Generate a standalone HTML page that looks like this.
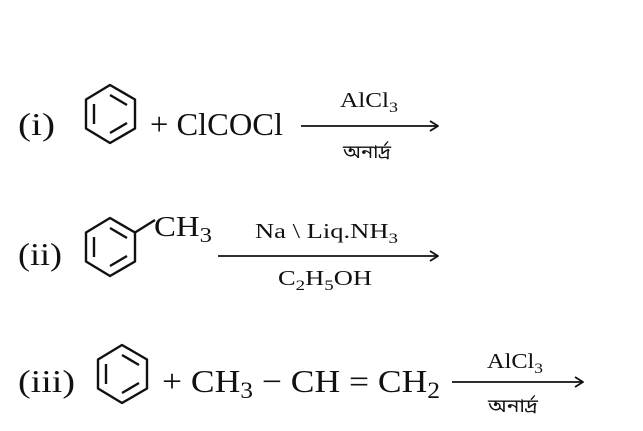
<!DOCTYPE html>
<html><head><meta charset="utf-8"><style>
html,body{margin:0;padding:0;background:#fff;width:643px;height:431px;overflow:hidden}
svg{display:block}
text{font-family:"Liberation Serif",serif;fill:#111}
.s{font-family:"Liberation Serif",serif;font-size:21px}
.b{font-family:"Noto Sans Bengali","Lohit Bengali","FreeSerif","DejaVu Sans",sans-serif;font-size:18px}
</style></head><body>
<svg width="643" height="431" viewBox="0 0 643 431">
<g stroke="#111" stroke-width="2.4" fill="none" stroke-linejoin="round">
 <polygon points="110,85 135,99.5 135,128.5 110,143 86,128.5 86,99.5"/>
 <line x1="94" y1="104" x2="94" y2="124"/>
 <line x1="110" y1="95" x2="127" y2="105"/>
 <line x1="110" y1="133" x2="127" y2="123"/>
 <polygon points="110,218 135,232.5 135,261.5 110,276 86,261.5 86,232.5"/>
 <line x1="94" y1="237" x2="94" y2="257"/>
 <line x1="110" y1="228" x2="127" y2="238"/>
 <line x1="110" y1="266" x2="127" y2="256"/>
 <line x1="135" y1="232.5" x2="155" y2="220"/>
 <polygon points="122,345 147,359.5 147,388.5 122,403 98,388.5 98,359.5"/>
 <line x1="106" y1="364" x2="106" y2="384"/>
 <line x1="122" y1="355" x2="139" y2="365"/>
 <line x1="122" y1="393" x2="139" y2="383"/>
 <line x1="301" y1="126" x2="437" y2="126" stroke-width="1.8"/>
 <polyline points="430,121 438,126 430,131" stroke-width="1.8"/>
 <line x1="218" y1="256" x2="437" y2="256" stroke-width="1.8"/>
 <polyline points="430,251 438,256 430,261" stroke-width="1.8"/>
 <line x1="452" y1="382" x2="582" y2="382" stroke-width="1.8"/>
 <polyline points="575,377 583,382 575,387" stroke-width="1.8"/>
</g>
<text x="18" y="135" font-size="32" textLength="37" lengthAdjust="spacingAndGlyphs">(i)</text>
<text x="150" y="135" font-size="32" textLength="133" lengthAdjust="spacingAndGlyphs">+ ClCOCl</text>
<text x="340" y="107" class="s" textLength="58" lengthAdjust="spacingAndGlyphs">AlCl<tspan font-size="15" dy="5">3</tspan></text>
<text x="343" y="158" class="b" textLength="48" lengthAdjust="spacingAndGlyphs">অনার্দ্র</text>

<text x="18" y="265" font-size="32" textLength="44" lengthAdjust="spacingAndGlyphs">(ii)</text>
<text x="154" y="236" font-size="28" textLength="58" lengthAdjust="spacingAndGlyphs">CH<tspan font-size="21" dy="6">3</tspan></text>
<text x="255" y="238" class="s" textLength="143" lengthAdjust="spacingAndGlyphs">Na \ Liq.NH<tspan font-size="15" dy="5">3</tspan></text>
<text x="278" y="285" class="s" textLength="94" lengthAdjust="spacingAndGlyphs">C<tspan font-size="15" dy="5">2</tspan><tspan dy="-5">H</tspan><tspan font-size="15" dy="5">5</tspan><tspan dy="-5">OH</tspan></text>

<text x="18" y="392" font-size="32" textLength="57" lengthAdjust="spacingAndGlyphs">(iii)</text>
<text x="162" y="392" font-size="32" textLength="278" lengthAdjust="spacingAndGlyphs">+ CH<tspan font-size="23" dy="6">3</tspan><tspan dy="-6"> − CH = CH</tspan><tspan font-size="23" dy="6">2</tspan></text>
<text x="487" y="368" class="s" textLength="56" lengthAdjust="spacingAndGlyphs">AlCl<tspan font-size="15" dy="5">3</tspan></text>
<text x="488" y="412" class="b" textLength="50" lengthAdjust="spacingAndGlyphs">অনার্দ্র</text>
</svg>
</body></html>
